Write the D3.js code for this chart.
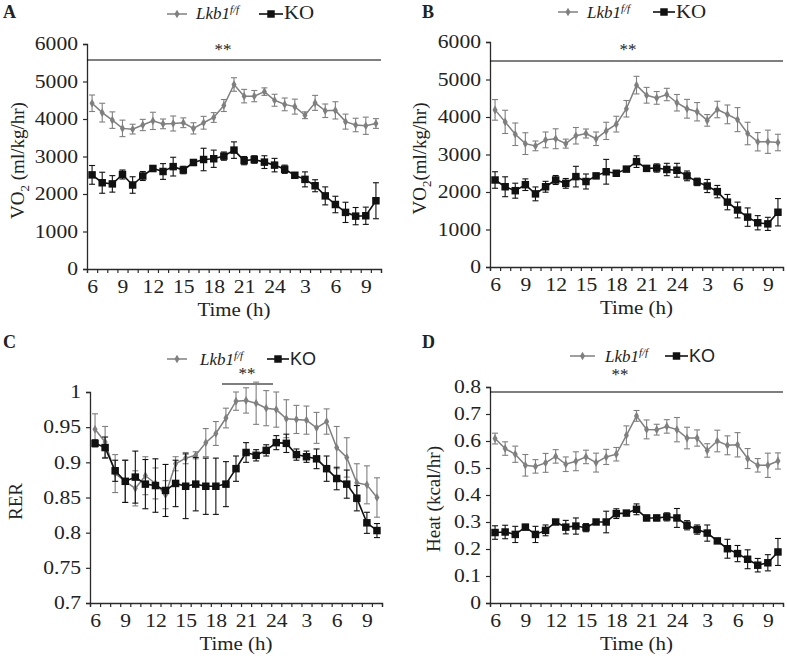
<!DOCTYPE html>
<html><head><meta charset="utf-8">
<script src="https://cdn.jsdelivr.net/npm/d3@7"></script>
<style>
body{margin:0;background:#fff}
svg{display:block}
text{font-family:"Liberation Serif","Times New Roman",serif;fill:#222}
</style>
</head><body>
<svg id="c" width="787" height="660"></svg>
<script>
// ---- categories (hours, continuing past midnight) ----
const timeHours = [6,7,8,9,10,11,12,13,14,15,16,17,18,19,20,21,22,23,24,25,26,27,28,29,30,31,32,33,34];
const timeTickHours = [6,9,12,15,18,21,24,27,30,33];
const timeTickLabels = ["6","9","12","15","18","21","24","3","6","9"];

// ---- Panel A: VO2 ----
const vo2aWt    = [4420,4170,3970,3750,3730,3840,3950,3870,3880,3900,3750,3900,4040,4360,4920,4610,4610,4730,4500,4390,4330,4100,4430,4220,4230,3930,3840,3820,3880];
const vo2aWtErr = [220,250,220,220,130,150,230,130,200,130,150,170,130,160,180,180,150,100,160,170,200,90,200,180,230,200,180,230,130];
const vo2aKo    = [2510,2300,2270,2520,2240,2480,2680,2600,2730,2640,2840,2920,2940,3010,3170,2890,2920,2850,2770,2660,2500,2390,2220,1950,1720,1510,1410,1420,1820];
const vo2aKoErr = [250,280,220,120,220,120,80,210,250,100,80,300,230,110,220,110,100,170,180,110,70,200,160,240,220,270,230,230,480];

// ---- Panel B: VO2 ----
const vo2bWt    = [4190,3870,3540,3290,3230,3390,3420,3290,3500,3560,3420,3630,3810,4220,4850,4580,4510,4600,4380,4220,4140,3910,4200,4070,3930,3560,3340,3340,3320];
const vo2bWtErr = [275,310,300,290,130,210,265,120,220,120,180,230,210,220,235,210,170,165,220,250,245,155,220,250,320,300,245,310,220];
const vo2bKo    = [2320,2140,2035,2195,1950,2140,2320,2230,2410,2280,2430,2540,2500,2610,2810,2630,2640,2600,2580,2430,2270,2160,2010,1730,1520,1330,1180,1150,1460];
const vo2bKoErr = [220,265,200,155,185,145,120,130,275,200,30,330,35,30,155,50,110,165,185,130,100,175,165,205,210,245,190,175,365];

// ---- Panel C: RER ----
const rerWt    = [0.947,0.929,0.884,0.873,0.863,0.881,0.870,0.854,0.898,0.906,0.910,0.928,0.941,0.963,0.987,0.988,0.984,0.977,0.975,0.962,0.961,0.960,0.949,0.958,0.921,0.907,0.871,0.868,0.850];
const rerWtErr = [0.022,0.022,0.027,0.030,0.025,0.027,0.022,0.020,0.010,0.008,0.005,0.020,0.017,0.014,0.013,0.018,0.030,0.025,0.025,0.027,0.020,0.020,0.022,0.018,0.030,0.028,0.027,0.027,0.028];
const rerKo    = [0.927,0.921,0.888,0.873,0.879,0.869,0.867,0.860,0.870,0.866,0.869,0.866,0.866,0.869,0.891,0.914,0.910,0.917,0.928,0.927,0.911,0.908,0.905,0.891,0.877,0.869,0.849,0.814,0.803];
const rerKoErr = [0.005,0.015,0.015,0.030,0.037,0.035,0.038,0.037,0.033,0.046,0.038,0.040,0.040,0.032,0.018,0.014,0.008,0.008,0.010,0.013,0.008,0.008,0.014,0.018,0.016,0.020,0.018,0.015,0.010];

// ---- Panel D: Heat ----
const heatWt    = [0.609,0.572,0.551,0.510,0.506,0.519,0.543,0.514,0.525,0.541,0.520,0.541,0.551,0.621,0.693,0.643,0.642,0.654,0.642,0.611,0.611,0.565,0.600,0.584,0.586,0.535,0.510,0.510,0.526];
const heatWtErr = [0.020,0.025,0.030,0.040,0.025,0.035,0.025,0.027,0.035,0.025,0.035,0.028,0.025,0.035,0.020,0.035,0.020,0.025,0.045,0.040,0.030,0.025,0.040,0.035,0.045,0.037,0.025,0.045,0.030];
const heatKo    = [0.261,0.263,0.254,0.281,0.254,0.269,0.300,0.281,0.285,0.279,0.300,0.300,0.331,0.333,0.347,0.315,0.315,0.319,0.315,0.288,0.272,0.259,0.230,0.201,0.183,0.162,0.140,0.149,0.189];
const heatKoErr = [0.025,0.025,0.030,0.010,0.030,0.020,0.007,0.025,0.030,0.015,0.007,0.040,0.018,0.007,0.020,0.010,0.010,0.015,0.035,0.017,0.017,0.030,0.007,0.035,0.030,0.035,0.025,0.030,0.050];

// ---- y tick values ----
const vo2Ticks  = [0,1000,2000,3000,4000,5000,6000];
const rerTicks  = [0.7,0.75,0.8,0.85,0.9,0.95,1];
const heatTicks = [0,0.1,0.2,0.3,0.4,0.5,0.6,0.7,0.8];

const seriesNames = ["Lkb1", "KO"];
const GRAY = "#7f7f7f", BLACK = "#111", AXIS = "#2a2a2a";

const svg = d3.select("#c");

function stretch(sel, k) {
  sel.each(function() {
    const w = this.getComputedTextLength();
    this.setAttribute("textLength", (w * k).toFixed(1));
    this.setAttribute("lengthAdjust", "spacingAndGlyphs");
  });
}

function drawPanel(p) {
  const g = svg.append("g");
  const x = d3.scaleLinear().domain([timeHours[0]-0.5, timeHours[timeHours.length-1]+0.5]).range([p.x0, p.x1]);
  const y = d3.scaleLinear().domain(p.domain).range([p.yBot, p.yTop]);

  // y axis
  const ya = g.append("g").attr("transform", `translate(${p.x0},0)`)
    .call(d3.axisLeft(y).tickValues(p.ticks).tickSize(4).tickPadding(5).tickFormat(p.fmt));
  // x axis: boundary ticks
  const bounds = timeHours.map(h => h - 0.5).concat([timeHours[timeHours.length-1] + 0.5]);
  const xa = g.append("g").attr("transform", `translate(0,${p.yBot})`)
    .call(d3.axisBottom(x).tickValues(bounds).tickSize(4).tickFormat(""));
  // x axis: labels
  const xl = g.append("g").attr("transform", `translate(0,${p.yBot})`)
    .call(d3.axisBottom(x).tickValues(timeTickHours).tickSize(0).tickPadding(11)
      .tickFormat((d,i) => timeTickLabels[i]));
  xl.select(".domain").remove();
  [ya, xa].forEach(a => {
    a.select(".domain").attr("stroke", AXIS).attr("stroke-width", 1.3);
    a.selectAll(".tick line").attr("stroke", AXIS).attr("stroke-width", 1.2);
  });
  const tt = g.selectAll(".tick text").attr("font-size", 18).attr("fill", "#222");
  stretch(tt, 1.2);

  // axis titles
  const yt = g.append("text")
    .attr("transform", `translate(${p.yLabelX},${(p.yTop + p.yBot)/2 + 4}) rotate(-90)`)
    .attr("text-anchor", "middle").attr("font-size", 19);
  p.yLabel(yt);
  const xt = g.append("text").attr("x", (p.x0 + p.x1)/2).attr("y", p.yBot + 47)
    .attr("text-anchor", "middle").attr("font-size", 19).text("Time (h)");
  stretch(xt, 1.1);

  // panel letter
  g.append("text").attr("x", p.letterX).attr("y", p.letterY)
    .attr("font-size", 18).attr("font-weight", "bold").text(p.letter);

  // significance bar
  g.append("line").attr("x1", p.sig.x1).attr("x2", p.sig.x2).attr("y1", p.sig.y).attr("y2", p.sig.y)
    .attr("stroke", "#000").attr("stroke-width", 1.1);
  g.append("text").attr("x", p.sig.tx).attr("y", p.sig.ty).attr("text-anchor", "middle")
    .attr("font-size", 17).attr("fill", "#333").text("**");

  // series
  const series = [
    {vals: p.wt, errs: p.wtErr, color: GRAY, marker: "diamond", lw: 1.5},
    {vals: p.ko, errs: p.koErr, color: BLACK, marker: "square", lw: 1.6}
  ];
  series.forEach(s => {
    const pts = timeHours.map((h, i) => ({h, v: s.vals[i], e: s.errs[i]}));
    const eg = g.append("g");
    pts.forEach(d => {
      const cx = x(d.h), yh = y(d.v + d.e), yl = y(d.v - d.e);
      eg.append("line").attr("x1", cx).attr("x2", cx).attr("y1", yh).attr("y2", yl)
        .attr("stroke", s.color).attr("stroke-width", 1.1);
      [yh, yl].forEach(yy => eg.append("line").attr("x1", cx - 3).attr("x2", cx + 3)
        .attr("y1", yy).attr("y2", yy).attr("stroke", s.color).attr("stroke-width", 1.1));
    });
    g.append("path").datum(pts)
      .attr("d", d3.line().x(d => x(d.h)).y(d => y(d.v)))
      .attr("fill", "none").attr("stroke", s.color).attr("stroke-width", s.lw);
    const sym = s.marker === "diamond" ? d3.symbol(d3.symbolDiamond, 22) : d3.symbol(d3.symbolSquare, 56);
    g.append("g").selectAll("path").data(pts).join("path")
      .attr("transform", d => `translate(${x(d.h)},${y(d.v)})`)
      .attr("d", sym).attr("fill", s.color);
  });

  // legend
  const L = p.legend;
  g.append("line").attr("x1", L.wx1).attr("x2", L.wx2).attr("y1", L.y).attr("y2", L.y)
    .attr("stroke", GRAY).attr("stroke-width", 1.5);
  g.append("path").attr("transform", `translate(${(L.wx1+L.wx2)/2},${L.y})`)
    .attr("d", d3.symbol(d3.symbolDiamond, 22)).attr("fill", GRAY);
  const lt = g.append("text").attr("x", L.wtx).attr("y", L.ty).attr("font-size", 17).attr("font-style", "italic");
  lt.append("tspan").text(seriesNames[0]);
  lt.append("tspan").attr("font-size", 11).attr("dy", -6).text("f/f");
  g.append("line").attr("x1", L.kx1).attr("x2", L.kx2).attr("y1", L.y).attr("y2", L.y)
    .attr("stroke", BLACK).attr("stroke-width", 1.6);
  g.append("path").attr("transform", `translate(${(L.kx1+L.kx2)/2},${L.y})`)
    .attr("d", d3.symbol(d3.symbolSquare, 56)).attr("fill", BLACK);
  const kt = g.append("text").attr("x", L.kx2 + 1).attr("y", L.ty).attr("font-size", L.koSans ? 18 : 19)
    .text(seriesNames[1]);
  if (L.koSans) kt.style("font-family", '"Liberation Sans",Arial,sans-serif');
  else stretch(kt, 1.1);
}

function vo2Label(space) {
  return t => {
    t.append("tspan").text("VO");
    t.append("tspan").attr("font-size", 13).attr("dy", 5).text("2");
    t.append("tspan").attr("dy", -5).text(space ? " (ml/kg/hr)" : "(ml/kg/hr)");
  };
}

drawPanel({
  letter: "A", letterX: 3, letterY: 18,
  x0: 87, x1: 381, yTop: 44, yBot: 269, domain: [0, 6000], ticks: vo2Ticks, fmt: d3.format("d"),
  yLabelX: 24, yLabel: vo2Label(true),
  wt: vo2aWt, wtErr: vo2aWtErr, ko: vo2aKo, koErr: vo2aKoErr,
  sig: {x1: 87, x2: 381, y: 60, tx: 223, ty: 55},
  legend: {y: 14, wx1: 167, wx2: 187, wtx: 196, ty: 19, kx1: 259, kx2: 283, koSans: false}
});
drawPanel({
  letter: "B", letterX: 422, letterY: 18,
  x0: 490, x1: 783, yTop: 42, yBot: 267, domain: [0, 6000], ticks: vo2Ticks, fmt: d3.format("d"),
  yLabelX: 426, yLabel: vo2Label(false),
  wt: vo2bWt, wtErr: vo2bWtErr, ko: vo2bKo, koErr: vo2bKoErr,
  sig: {x1: 490, x2: 783, y: 61, tx: 628, ty: 55},
  legend: {y: 12, wx1: 558, wx2: 578, wtx: 587, ty: 18, kx1: 653, kx2: 675, koSans: false}
});
drawPanel({
  letter: "C", letterX: 3, letterY: 348,
  x0: 90, x1: 382, yTop: 392, yBot: 603, domain: [0.7, 1], ticks: rerTicks, fmt: d => String(+d.toFixed(2)),
  yLabelX: 22, yLabel: t => t.text("RER"),
  wt: rerWt, wtErr: rerWtErr, ko: rerKo, koErr: rerKoErr,
  sig: {x1: 222, x2: 273, y: 384, tx: 247, ty: 379},
  legend: {y: 359, wx1: 167, wx2: 187, wtx: 200, ty: 365, kx1: 267, kx2: 289, koSans: true}
});
drawPanel({
  letter: "D", letterX: 422, letterY: 348,
  x0: 490, x1: 783, yTop: 387, yBot: 603, domain: [0, 0.8], ticks: heatTicks, fmt: d => String(+d.toFixed(1)),
  yLabelX: 440, yLabel: t => t.text("Heat (kcal/hr)"),
  wt: heatWt, wtErr: heatWtErr, ko: heatKo, koErr: heatKoErr,
  sig: {x1: 490, x2: 783, y: 392, tx: 620, ty: 380},
  legend: {y: 356, wx1: 570, wx2: 595, wtx: 605, ty: 362, kx1: 665, kx2: 688, koSans: true}
});
</script>
</body></html>
